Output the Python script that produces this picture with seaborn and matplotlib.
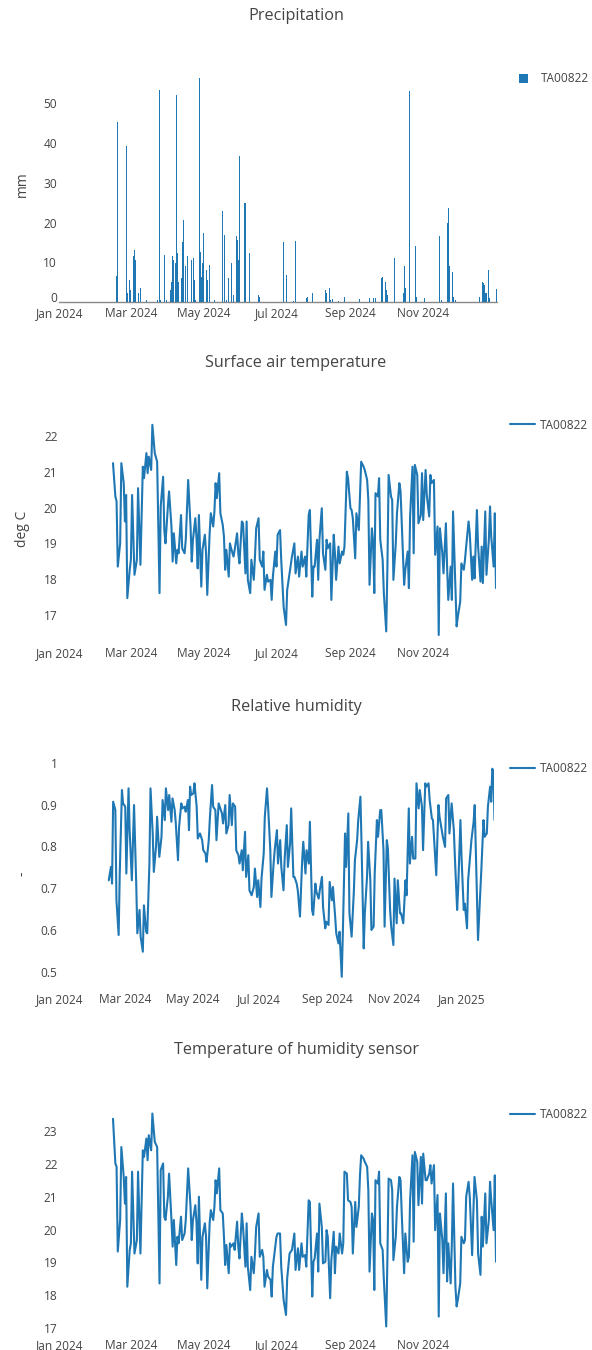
import pandas as pd
import matplotlib
matplotlib.use("Agg")
import matplotlib.pyplot as plt
import matplotlib.dates as mdates
from matplotlib.ticker import FuncFormatter
import seaborn as sns

STATION = "TA00822"
START = pd.Timestamp("2024-01-01")

# x tick months shown on the panels
ticks_2024 = ["2024-01-01", "2024-03-01", "2024-05-01", "2024-07-01", "2024-09-01", "2024-11-01"]
ticks_hum = ticks_2024 + ["2025-01-01"]

# precipitation, mm per day (day 0 = 1 Jan 2024, days not listed are 0)
rain_day = [48, 49, 50, 55, 56, 57, 59, 60, 62, 63,
            64, 66, 68, 73, 82, 84, 85, 88, 90, 93,
            94, 95, 96, 97, 98, 99, 100, 102, 103, 104,
            106, 107, 111, 112, 113, 114, 117, 118, 119, 120,
            121, 122, 123, 124, 126, 130, 137, 138, 140, 142,
            144, 146, 148, 149, 150, 151, 153, 155, 156, 158,
            159, 167, 168, 188, 189, 190, 196, 198, 207, 208,
            212, 223, 224, 226, 227, 229, 234, 239, 251, 260,
            261, 263, 265, 270, 271, 273, 274, 275, 281, 288,
            289, 290, 293, 298, 299, 306, 318, 320, 325, 326,
            327, 328, 329, 330, 332, 352, 354, 355, 356, 357,
            358, 359, 360, 366]
rain_mm = [6.5, 45.1, 13.6, 3.9, 39.3, 2.3, 5.6, 3.1, 11.5, 13.1,
           10.6, 2.3, 3.5, 0.6, 0.6, 53.3, 0.6, 11.9, 0.6, 3.1,
           5.2, 11.5, 10.6, 9.8, 52.1, 12.3, 5.2, 6.0, 15.2, 20.7,
           9.0, 11.5, 10.6, 11.0, 5.6, 0.6, 56.3, 12.7, 6.4, 9.8,
           17.3, 27.8, 8.1, 5.6, 9.4, 0.5, 22.8, 16.9, 0.6, 6.0,
           9.8, 1.8, 16.5, 15.7, 10.6, 36.6, 3.1, 24.9, 24.9, 12.3,
           12.3, 1.8, 1.4, 15.2, 21.9, 6.9, 0.4, 15.4, 1.0, 1.4,
           2.3, 3.1, 2.3, 3.5, 0.6, 0.8, 0.4, 1.4, 0.8, 1.2,
           14.0, 1.0, 1.0, 6.0, 6.4, 5.2, 3.1, 1.8, 11.2, 2.3,
           9.0, 3.5, 52.9, 14.0, 1.4, 1.2, 16.5, 0.6, 19.8, 23.6,
           9.0, 8.6, 7.7, 1.4, 0.6, 1.4, 5.2, 4.8, 4.4, 2.3,
           2.3, 8.1, 1.0, 3.3]

# days for the two temperature series
temp_day = [45, 47, 48, 49, 51, 52, 54, 55, 56, 57,
            59, 60, 61, 63, 65, 66, 68, 70, 71, 73,
            74, 75, 77, 78, 80, 82, 84, 85, 87, 88,
            89, 91, 92, 94, 95, 96, 98, 99, 100, 102,
            103, 105, 106, 108, 110, 111, 112, 114, 115, 116,
            117, 119, 120, 122, 123, 124, 126, 127, 129, 130,
            131, 132, 134, 135, 137, 138, 139, 140, 142, 143,
            144, 146, 147, 149, 150, 151, 153, 154, 156, 157,
            158, 160, 161, 163, 164, 165, 167, 168, 170, 171,
            172, 174, 175, 177, 178, 179, 181, 182, 183, 185,
            186, 188, 190, 191, 193, 195, 197, 198, 200, 201,
            203, 204, 206, 207, 209, 210, 212, 213, 214, 216,
            217, 218, 220, 221, 223, 224, 225, 227, 228, 230,
            231, 232, 234, 235, 237, 238, 239, 241, 242, 244,
            245, 246, 248, 249, 251, 252, 253, 255, 256, 258,
            259, 260, 262, 263, 264, 265, 267, 268, 269, 271,
            272, 274, 275, 276, 278, 279, 280, 282, 283, 285,
            286, 287, 289, 290, 292, 293, 294, 296, 297, 298,
            300, 301, 303, 304, 305, 307, 308, 310, 311, 312,
            314, 315, 317, 318, 319, 321, 322, 324, 325, 326,
            328, 329, 330, 332, 333, 334, 336, 337, 339, 340,
            341, 343, 344, 346, 347, 348, 350, 351, 353, 354,
            355, 357, 358, 360, 361, 362, 364, 365, 366]

# surface air temperature, deg C
air_temp = [21.24, 20.31, 20.17, 18.35, 19.00, 21.24, 20.68, 19.61, 20.35, 17.47,
            18.26, 18.54, 20.35, 18.12, 18.54, 20.54, 18.40, 21.14, 20.82, 21.52,
            20.96, 21.42, 21.05, 22.31, 21.52, 21.28, 17.61, 20.03, 20.86, 19.37,
            19.00, 20.03, 20.45, 19.47, 18.49, 19.28, 18.44, 18.82, 18.72, 19.79,
            18.86, 18.72, 19.10, 20.77, 19.47, 18.49, 19.10, 19.70, 19.14, 18.30,
            19.79, 17.79, 18.82, 19.24, 18.72, 17.56, 19.28, 19.84, 19.47, 19.89,
            20.68, 20.26, 20.96, 19.84, 19.51, 19.19, 18.26, 18.82, 18.07, 19.00,
            18.86, 18.63, 18.82, 19.28, 18.72, 18.44, 19.61, 19.56, 18.16, 19.61,
            17.98, 17.61, 18.54, 17.98, 18.63, 19.42, 19.70, 18.54, 18.35, 18.77,
            17.70, 18.12, 17.93, 17.98, 17.42, 18.07, 18.77, 18.35, 19.24, 19.37,
            18.54, 17.23, 16.72, 17.70, 18.16, 18.63, 19.00, 18.16, 18.63, 18.07,
            18.77, 18.35, 18.63, 18.07, 19.79, 19.93, 17.51, 18.35, 18.35, 19.10,
            17.98, 19.10, 19.98, 18.72, 18.26, 19.10, 18.86, 19.00, 17.42, 19.24,
            18.72, 17.98, 18.91, 18.44, 18.77, 18.68, 18.91, 21.00, 20.82, 19.98,
            19.93, 19.70, 18.58, 19.84, 19.37, 20.31, 21.28, 21.14, 21.05, 20.77,
            20.21, 17.84, 19.42, 19.00, 17.61, 20.40, 20.31, 20.82, 19.10, 18.54,
            17.61, 16.54, 18.35, 20.91, 20.31, 20.21, 17.98, 19.00, 19.84, 20.68,
            20.45, 19.56, 17.84, 18.26, 18.77, 17.75, 19.75, 21.14, 18.72, 21.19,
            20.91, 19.56, 19.79, 20.96, 19.65, 21.05, 20.35, 19.75, 20.91, 20.68,
            20.77, 18.68, 19.47, 16.44, 19.42, 18.72, 18.16, 19.56, 18.35, 17.42,
            18.35, 17.42, 19.89, 17.79, 16.68, 16.95, 17.37, 18.44, 18.26, 18.54,
            18.91, 19.61, 19.28, 17.98, 18.63, 18.02, 19.93, 18.91, 17.93, 18.91,
            17.89, 19.89, 18.12, 19.10, 20.03, 19.19, 18.35, 19.84, 17.75]

# temperature of humidity sensor, deg C
sensor_temp = [23.37, 22.01, 21.91, 19.33, 20.29, 22.51, 21.60, 20.79, 21.60, 18.26,
               19.38, 19.58, 21.76, 19.27, 19.68, 21.76, 19.27, 22.41, 22.21, 22.77,
               22.11, 22.87, 22.41, 23.53, 22.67, 22.51, 18.36, 21.81, 22.01, 20.39,
               20.29, 21.00, 21.70, 20.29, 19.48, 20.29, 18.92, 19.78, 19.58, 20.39,
               19.68, 19.88, 20.29, 21.86, 20.69, 19.68, 20.29, 20.74, 20.19, 18.97,
               21.00, 18.47, 19.78, 20.19, 19.78, 18.21, 20.19, 20.59, 20.29, 20.69,
               21.50, 21.10, 21.86, 20.59, 20.49, 19.78, 18.92, 19.53, 18.67, 19.58,
               19.48, 19.58, 19.38, 20.24, 19.48, 19.12, 20.49, 20.08, 18.87, 20.19,
               18.87, 18.16, 19.17, 18.67, 19.27, 20.08, 20.49, 19.17, 19.38, 19.17,
               18.26, 18.77, 18.57, 18.47, 17.96, 18.87, 19.48, 19.78, 19.88, 19.88,
               18.87, 17.86, 17.40, 18.52, 19.27, 19.38, 19.88, 18.77, 19.43, 18.77,
               19.58, 19.17, 19.22, 18.87, 20.89, 20.84, 17.96, 19.02, 19.12, 19.88,
               18.72, 20.79, 20.08, 18.97, 19.02, 19.98, 19.78, 17.91, 19.07, 19.93,
               18.67, 19.48, 19.27, 19.88, 19.27, 19.58, 21.76, 21.70, 20.89, 20.84,
               20.69, 19.27, 20.84, 20.08, 20.69, 21.65, 22.26, 22.16, 22.06, 21.91,
               21.20, 18.72, 20.49, 20.29, 18.16, 21.50, 21.40, 21.76, 19.58, 19.38,
               18.47, 17.05, 19.17, 21.55, 21.50, 21.20, 19.07, 19.78, 20.69, 21.60,
               21.50, 20.49, 18.67, 19.88, 19.02, 19.17, 20.89, 22.26, 19.63, 22.36,
               22.06, 20.74, 22.21, 20.79, 22.31, 21.50, 21.50, 21.70, 21.96, 21.40,
               21.96, 19.98, 21.05, 17.35, 20.49, 19.68, 18.67, 21.10, 18.42, 19.58,
               18.36, 19.58, 21.40, 18.26, 17.66, 17.86, 18.36, 19.78, 19.58, 19.68,
               21.00, 21.45, 21.00, 19.22, 20.49, 21.60, 20.89, 19.27, 18.62, 20.39,
               19.48, 21.10, 19.58, 20.29, 21.45, 20.89, 19.98, 21.65, 19.02]

# relative humidity (fraction)
hum_day = [45, 47, 48, 49, 51, 52, 54, 55, 57, 58,
           60, 61, 63, 64, 66, 68, 70, 71, 73, 74,
           76, 77, 79, 80, 82, 83, 85, 86, 88, 89,
           91, 93, 94, 96, 97, 99, 100, 102, 103, 105,
           106, 108, 109, 111, 112, 114, 115, 117, 118, 119,
           120, 122, 123, 125, 126, 128, 130, 131, 133, 134,
           136, 137, 139, 140, 142, 143, 145, 146, 148, 149,
           151, 152, 154, 155, 157, 158, 160, 161, 163, 164,
           166, 167, 169, 170, 172, 173, 175, 177, 178, 180,
           181, 183, 184, 186, 187, 189, 190, 192, 193, 195,
           196, 198, 199, 201, 202, 204, 205, 207, 208, 210,
           211, 213, 214, 216, 217, 219, 221, 222, 224, 225,
           227, 228, 230, 231, 233, 234, 236, 237, 239, 240,
           242, 243, 245, 246, 248, 249, 251, 252, 254, 255,
           257, 258, 260, 261, 263, 264, 266, 268, 269, 271,
           272, 274, 275, 277, 278, 280, 281, 283, 284, 286,
           287, 289, 290, 292, 293, 295, 296, 298, 299, 301,
           302, 304, 305, 307, 308, 310, 311, 313, 315, 316,
           318, 319, 321, 322, 324, 325, 327, 328, 330, 331,
           333, 334, 336, 337, 339, 340, 342, 343, 345, 346,
           348, 349, 351, 352, 354, 355, 357, 359, 360, 362,
           363, 365, 366, 368, 369, 371, 372, 374, 375, 377,
           378, 380, 381, 383, 384, 386, 387, 389, 390, 392,
           393, 394, 395, 396]
humidity = [0.719, 0.751, 0.711, 0.907, 0.887, 0.671, 0.588, 0.735, 0.935, 0.903,
            0.895, 0.735, 0.939, 0.839, 0.719, 0.899, 0.711, 0.592, 0.648, 0.584,
            0.548, 0.659, 0.596, 0.592, 0.759, 0.939, 0.831, 0.739, 0.799, 0.871,
            0.775, 0.823, 0.911, 0.863, 0.939, 0.887, 0.923, 0.859, 0.915, 0.887,
            0.855, 0.767, 0.847, 0.903, 0.891, 0.895, 0.883, 0.911, 0.839, 0.943,
            0.923, 0.927, 0.951, 0.895, 0.819, 0.831, 0.815, 0.791, 0.783, 0.763,
            0.815, 0.867, 0.947, 0.895, 0.887, 0.815, 0.903, 0.895, 0.879, 0.855,
            0.899, 0.831, 0.851, 0.923, 0.851, 0.903, 0.895, 0.791, 0.779, 0.759,
            0.791, 0.743, 0.835, 0.727, 0.779, 0.695, 0.683, 0.703, 0.747, 0.679,
            0.719, 0.655, 0.723, 0.783, 0.871, 0.939, 0.895, 0.791, 0.679, 0.759,
            0.791, 0.839, 0.759, 0.815, 0.751, 0.695, 0.767, 0.851, 0.751, 0.807,
            0.891, 0.727, 0.727, 0.711, 0.695, 0.632, 0.767, 0.811, 0.735, 0.791,
            0.759, 0.859, 0.648, 0.636, 0.711, 0.691, 0.675, 0.695, 0.727, 0.655,
            0.604, 0.620, 0.612, 0.715, 0.671, 0.703, 0.632, 0.592, 0.568, 0.596,
            0.488, 0.592, 0.831, 0.751, 0.879, 0.640, 0.584, 0.691, 0.767, 0.815,
            0.863, 0.919, 0.807, 0.556, 0.640, 0.727, 0.811, 0.719, 0.600, 0.608,
            0.735, 0.863, 0.823, 0.887, 0.887, 0.791, 0.608, 0.815, 0.795, 0.648,
            0.608, 0.564, 0.723, 0.616, 0.719, 0.640, 0.640, 0.616, 0.719, 0.683,
            0.891, 0.759, 0.823, 0.771, 0.771, 0.951, 0.891, 0.935, 0.895, 0.791,
            0.951, 0.943, 0.951, 0.911, 0.867, 0.863, 0.775, 0.731, 0.899, 0.871,
            0.839, 0.823, 0.799, 0.915, 0.923, 0.831, 0.903, 0.839, 0.771, 0.648,
            0.703, 0.863, 0.775, 0.648, 0.663, 0.604, 0.719, 0.783, 0.815, 0.859,
            0.899, 0.687, 0.576, 0.687, 0.743, 0.863, 0.823, 0.831, 0.895, 0.943,
            0.907, 0.986, 0.978, 0.863]

sns.set_theme(style="white")
plt.rcParams["font.family"] = ["Open Sans", "DejaVu Sans"]

BLUE = "#1f77b4"
GREY = "#444444"
W, H = 592, 1350

fig = plt.figure(figsize=(W / 100, H / 100), dpi=100)


def panel(left, top, right, bottom):
    return fig.add_axes([left / W, 1 - bottom / H, (right - left) / W, (bottom - top) / H])


def to_dates(days):
    return START + pd.to_timedelta(days, unit="D")


def finish(ax, title, title_y, ylabel, yticks, ylim, xlim_days, xticks,
           leg_x, leg_y, xpad=1.3, **leg_kw):
    sns.despine(ax=ax, left=True, bottom=True)
    ax.grid(False)
    ax.set_xlim(START + pd.Timedelta(days=xlim_days[0]), START + pd.Timedelta(days=xlim_days[1]))
    ax.set_ylim(*ylim)
    ax.set_yticks(yticks)
    ax.yaxis.set_major_formatter(FuncFormatter(lambda v, p: f"{round(v, 2):g}"))
    ax.set_xticks(pd.to_datetime(xticks))
    ax.xaxis.set_major_formatter(mdates.DateFormatter("%b %Y"))
    ax.tick_params(length=0, labelsize=8.6, labelcolor=GREY, pad=1.3)
    ax.tick_params(axis="x", pad=xpad)
    ax.set_xlabel("")
    ax.set_ylabel(ylabel, fontsize=10, color=GREY, va="center")
    box = ax.get_position()
    ax.yaxis.set_label_coords((22 / W - box.x0) / box.width, 0.5)
    fig.text(0.5, 1 - title_y / H, title, ha="center", va="center",
             fontsize=11.7, color=GREY)
    ax.legend(loc="upper left", bbox_to_anchor=(leg_x / W, 1 - leg_y / H),
              bbox_transform=fig.transFigure, frameon=False, fontsize=8.6,
              labelcolor=GREY, borderpad=0, borderaxespad=0, **leg_kw)


# precipitation
ax1 = panel(58.7, 65, 497, 302.3)
ax1.axhline(0, color="#888888", lw=1, zorder=0.5, clip_on=False)
ax1.bar(to_dates(rain_day), rain_mm, width=0.8, color=BLUE, linewidth=0, label=STATION)
finish(ax1, "Precipitation", 16, "mm", [0, 10, 20, 30, 40, 50], (0, 59.5), (-0.5, 366.5),
       ticks_2024, 519, 72.5, xpad=3.4,
       handlelength=0.75, handleheight=0.75, handletextpad=1.1)
# lift the "0" label a little so it clears the date labels
ax1.get_yticklabels()[0].set_verticalalignment("baseline")

# surface air temperature
ax2 = panel(59.3, 413, 496, 645)
sns.lineplot(x=to_dates(temp_day), y=air_temp, ax=ax2, color=BLUE, linewidth=1.5,
             estimator=None, sort=False, label=STATION)
finish(ax2, "Surface air temperature", 363, "deg C", [17, 18, 19, 20, 21, 22],
       (16.16, 22.64), (0, 366), ticks_2024, 510, 418.5,
       handlelength=2.1, handletextpad=0.4)

# relative humidity
ax3 = panel(59.3, 757, 494.5, 991)
sns.lineplot(x=to_dates(hum_day), y=humidity, ax=ax3, color=BLUE, linewidth=1.5,
             estimator=None, sort=False, label=STATION)
finish(ax3, "Relative humidity", 707, "-", [0.5, 0.6, 0.7, 0.8, 0.9, 1.0],
       (0.454, 1.014), (0, 396), ticks_hum, 510, 762.5,
       handlelength=2.1, handletextpad=0.4)

# temperature of humidity sensor
ax4 = panel(59.3, 1103, 496, 1337)
sns.lineplot(x=to_dates(temp_day), y=sensor_temp, ax=ax4, color=BLUE, linewidth=1.5,
             estimator=None, sort=False, label=STATION)
finish(ax4, "Temperature of humidity sensor", 1050, "", [17, 18, 19, 20, 21, 22, 23],
       (16.73, 23.85), (0, 366), ticks_2024, 510, 1108.5,
       handlelength=2.1, handletextpad=0.4)

fig.savefig("out.png", dpi=100, facecolor="white")
